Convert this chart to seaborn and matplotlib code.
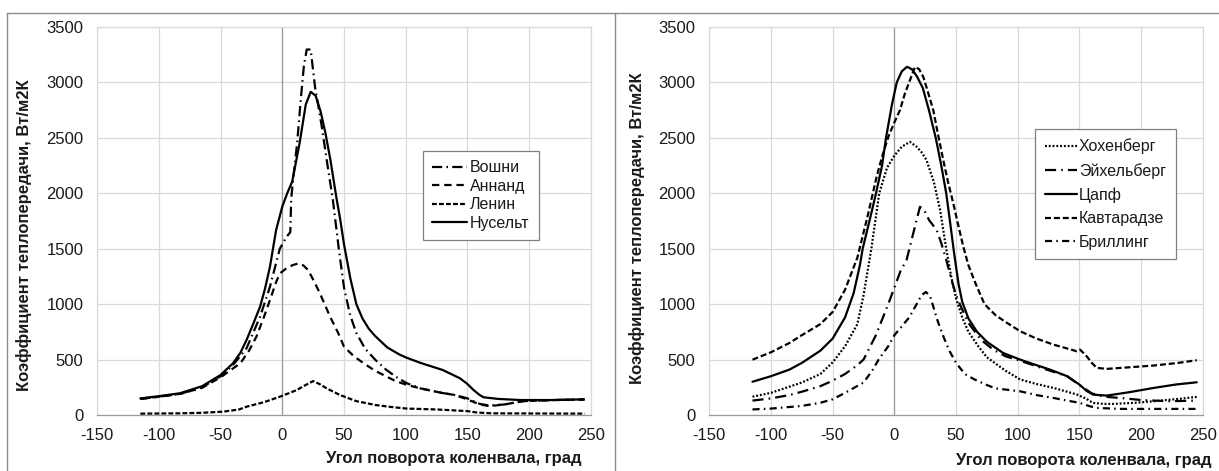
import matplotlib
matplotlib.use("Agg")
import matplotlib.pyplot as plt
from matplotlib.lines import Line2D
import seaborn as sns

# ---- left panel series: crank angle (deg) -> heat transfer coefficient (W/m2K)
voshni_x = [-115, -100, -83, -65, -50, -40, -29, -18, -10, -2, 3, 6.5, 7.2, 9, 12, 15, 17.5, 19.8, 23, 26.5, 29, 32, 36, 41, 46, 50, 55, 60, 67, 75.5, 84, 91.8, 101, 112, 129, 140, 150, 160, 168, 180, 195, 220, 245]
voshni_y = [145, 165, 190, 250, 350, 450, 601, 887, 1157, 1500, 1600, 1650, 1950, 2150, 2450, 2850, 3150, 3297, 3297, 2960, 2800, 2600, 2300, 1939, 1480, 1150, 900, 740, 600, 496, 410, 346, 286, 240, 200, 180, 150, 100, 85, 95, 125, 135, 140]

annand_x = [-115, -100, -83, -65, -50, -40, -34, -27, -21, -15, -10, -5, -2, 3, 8, 13, 17, 21, 26, 30.5, 38.7, 45.4, 50, 58, 66, 75, 82, 91, 101, 112, 129, 140, 150, 160, 168, 180, 195, 220, 245]
annand_y = [145, 165, 190, 245, 340, 420, 466, 580, 706, 880, 1037, 1200, 1277, 1320, 1350, 1368, 1350, 1307, 1200, 1097, 887, 737, 616, 530, 466, 400, 361, 310, 271, 240, 200, 180, 140, 95, 80, 95, 125, 135, 140]

lenin_x = [-115, -83, -65, -48, -35, -29, -15, -2, 5, 11.7, 18, 25, 30, 36, 46.8, 60, 75.5, 90, 101, 125, 150, 158, 170, 245]
lenin_y = [12, 15, 20, 30, 50, 75, 115, 165, 195, 225, 265, 306, 280, 240, 180, 125, 90, 70, 58, 50, 35, 22, 15, 12]

nusselt_x = [-115, -100, -83, -65, -50, -40, -34, -29, -24, -18, -14, -10, -5, 0, 4, 8, 14, 19, 23, 27, 31, 35, 39, 44, 47, 50, 55, 60, 65, 70, 75, 85, 95, 100, 112, 130, 144, 150, 155, 160, 163, 175, 193, 220, 244]
nusselt_y = [150, 170, 196, 260, 361, 466, 560, 676, 810, 977, 1140, 1338, 1669, 1880, 2000, 2105, 2451, 2800, 2915, 2880, 2740, 2540, 2300, 1950, 1760, 1540, 1240, 1000, 870, 780, 715, 610, 545, 520, 470, 406, 331, 280, 225, 180, 160, 145, 135, 135, 141]

# ---- right panel series
hohenberg_x = [-115, -100, -75, -60, -50, -40, -30, -25, -18.7, -12.3, -6, 0, 6, 12.6, 18, 22, 26, 32, 37, 42, 46, 50, 55, 60, 68, 75, 90, 102, 115, 129, 140, 148, 155, 161, 170, 177, 195, 210, 230, 245]
hohenberg_y = [165, 200, 293, 370, 475, 620, 820, 1080, 1500, 2000, 2230, 2340, 2420, 2464, 2420, 2370, 2300, 2100, 1850, 1500, 1250, 1050, 880, 750, 620, 520, 400, 320, 280, 244, 210, 184, 150, 109, 100, 100, 110, 124, 145, 163]

eichelberg_x = [-115, -100, -85, -75, -60, -50, -40, -30, -25, -15, -10, -5, 0, 5, 9.9, 15.3, 20.7, 24, 28, 34.3, 38, 42, 46, 50, 55, 60, 70, 80, 90, 101.8, 115, 126, 140, 150, 160, 170, 182.6, 200, 223, 245]
eichelberg_y = [130, 150, 180, 210, 260, 310, 370, 450, 500, 720, 860, 1000, 1150, 1300, 1400, 1640, 1878, 1850, 1760, 1668, 1550, 1400, 1230, 1080, 950, 830, 680, 590, 530, 490, 440, 400, 350, 270, 195, 165, 154, 135, 124, 130]

zapf_x = [-115, -100, -85, -75, -60, -50, -40, -33, -28, -25.7, -20, -14.9, -10, -6.8, -2, 1.9, 6, 10.2, 14, 18, 23, 28, 33.5, 38, 42, 45, 48.5, 52, 55, 60, 67, 75, 88, 101.8, 115, 126, 140, 150, 156, 161, 172, 190, 210, 228, 245]
zapf_y = [300, 350, 410, 470, 580, 690, 880, 1100, 1350, 1500, 1760, 2000, 2250, 2500, 2800, 3000, 3100, 3141, 3120, 3060, 2950, 2750, 2500, 2250, 2000, 1750, 1450, 1180, 1020, 870, 750, 660, 560, 500, 450, 410, 350, 274, 215, 184, 175, 205, 244, 275, 295]

kavtaradze_x = [-115, -100, -85, -75, -60, -50, -40, -30, -22, -14.4, -10, -4.9, 0, 4.5, 8.5, 12.6, 16.7, 20, 23.4, 27, 31.5, 35, 39.6, 43.5, 47.7, 52, 55.8, 60, 66, 73, 82, 90, 101.8, 115, 128.8, 140, 147.7, 150.4, 155.8, 160, 163.9, 172, 190, 209.8, 230, 245]
kavtaradze_y = [499, 566, 650, 720, 820, 930, 1130, 1420, 1780, 2149, 2330, 2510, 2640, 2750, 2900, 3020, 3140, 3120, 3050, 2920, 2750, 2550, 2300, 2100, 1910, 1700, 1520, 1350, 1180, 1000, 900, 840, 756, 690, 635, 600, 575, 590, 530, 470, 425, 416, 430, 446, 470, 494]

brilling_x = [-115, -100, -75, -60, -50, -40, -25, -18, -12.5, -5, 0, 6, 12, 18, 22, 25.5, 29, 32, 35, 40, 44.5, 50, 57, 65, 75, 82, 101.8, 115, 128.8, 140, 150.4, 158, 163.9, 182.8, 245]
brilling_y = [50, 58, 82, 110, 142, 200, 293, 400, 505, 620, 720, 800, 880, 1000, 1080, 1110, 1070, 960, 850, 700, 580, 470, 370, 320, 270, 240, 214, 180, 154, 130, 109, 80, 64, 55, 55]

x_ticks = [-150, -100, -50, 0, 50, 100, 150, 200, 250]
y_ticks = [0, 500, 1000, 1500, 2000, 2500, 3000, 3500]
y_label = "Коэффициент теплопередачи, Вт/м2К"
x_label = "Угол поворота коленвала, град"

left_series = [
    ("Вошни", voshni_x, voshni_y, (0, (4.6, 1.9, 0.7, 1.9))),
    ("Аннанд", annand_x, annand_y, (0, (3.3, 2.2))),
    ("Ленин", lenin_x, lenin_y, (0, (2.2, 0.95))),
    ("Нусельт", nusselt_x, nusselt_y, "-"),
]
right_series = [
    ("Хохенберг", hohenberg_x, hohenberg_y, (0, (0.85, 0.85))),
    ("Эйхельберг", eichelberg_x, eichelberg_y, (0, (5.0, 2.3, 0.7, 2.3))),
    ("Цапф", zapf_x, zapf_y, "-"),
    ("Кавтарадзе", kavtaradze_x, kavtaradze_y, (0, (2.7, 1.3))),
    ("Бриллинг", brilling_x, brilling_y, (0, (3.2, 1.9, 0.7, 1.9))),
]

sns.set_theme(style="white")
plt.rcParams["font.family"] = ["Liberation Sans", "DejaVu Sans"]
plt.rcParams["axes.unicode_minus"] = False

W, H = 1219, 471
fig = plt.figure(figsize=(W / 100, H / 100), dpi=100)
fig.patch.set_facecolor("white")

GRID = "#d9d9d9"
AXIS = "#9a9a9a"
TEXT = "#1a1a1a"


def px_rect(x0, y_top, w, h):
    return [x0 / W, 1 - (y_top + h) / H, w / W, h / H]


def draw_panel(ax, series):
    for name, xs, ys, ls in series:
        sns.lineplot(x=xs, y=ys, ax=ax, color="black", lw=1.6,
                     linestyle=ls, label=name, sort=False, estimator=None)
    ax.set_xlim(-150, 250)
    ax.set_ylim(0, 3500)
    ax.set_xticks(x_ticks)
    ax.set_yticks(y_ticks)
    ax.grid(True, color=GRID, lw=0.9)
    ax.set_axisbelow(True)
    for side in ("top", "right", "left"):
        ax.spines[side].set_color(GRID)
        ax.spines[side].set_linewidth(0.9)
    ax.spines["bottom"].set_color(AXIS)
    ax.spines["bottom"].set_linewidth(0.9)
    ax.axvline(0, color=AXIS, lw=0.9, zorder=1)
    ax.tick_params(axis="both", length=0, labelsize=12, labelcolor=TEXT)
    ax.tick_params(axis="y", pad=10)
    ax.tick_params(axis="x", pad=9)
    ax.set_xlabel("")
    ax.set_ylabel("")


ax1 = fig.add_axes(px_rect(97.2, 27, 493.6, 388))
ax2 = fig.add_axes(px_rect(709.3, 27, 493.6, 388))
draw_panel(ax1, left_series)
draw_panel(ax2, right_series)

leg_kw = dict(loc="upper left", bbox_transform=fig.transFigure, borderaxespad=0,
              frameon=True, fancybox=False, framealpha=1, edgecolor="#808080",
              fontsize=11.5, handletextpad=0.15, borderpad=0.6)
leg1 = ax1.legend(bbox_to_anchor=(422.7 / W, 1 - 150.7 / H), labelspacing=0.22,
                  handlelength=2.2, **leg_kw)
leg2 = ax2.legend(bbox_to_anchor=(1035 / W, 1 - 129 / H), labelspacing=0.53,
                  handlelength=2.0, **leg_kw)
for leg in (leg1, leg2):
    leg.get_frame().set_linewidth(0.9)
    for t in leg.get_texts():
        t.set_color(TEXT)

# axis titles
fig.text(582 / W, 1 - 458 / H, x_label, ha="right", va="center",
         fontsize=12, fontweight="bold", color=TEXT)
fig.text(1212 / W, 1 - 461 / H, x_label, ha="right", va="center",
         fontsize=12, fontweight="bold", color=TEXT)
fig.text(24 / W, 1 - 235 / H, y_label, ha="center", va="center", rotation=90,
         fontsize=12, fontweight="bold", color=TEXT)
fig.text(637 / W, 1 - 228 / H, y_label, ha="center", va="center", rotation=90,
         fontsize=12, fontweight="bold", color=TEXT)

# chart frames
FRAME = "#8c8c8c"
fig.add_artist(Line2D([7 / W, 1], [1 - 12.5 / H] * 2, color=FRAME, lw=1.0))
fig.add_artist(Line2D([7 / W] * 2, [0, 1 - 12.5 / H], color=FRAME, lw=1.0))
fig.add_artist(Line2D([614.5 / W] * 2, [0, 1 - 12.5 / H], color=FRAME, lw=1.0))

fig.savefig("out.png", dpi=100, facecolor="white")
